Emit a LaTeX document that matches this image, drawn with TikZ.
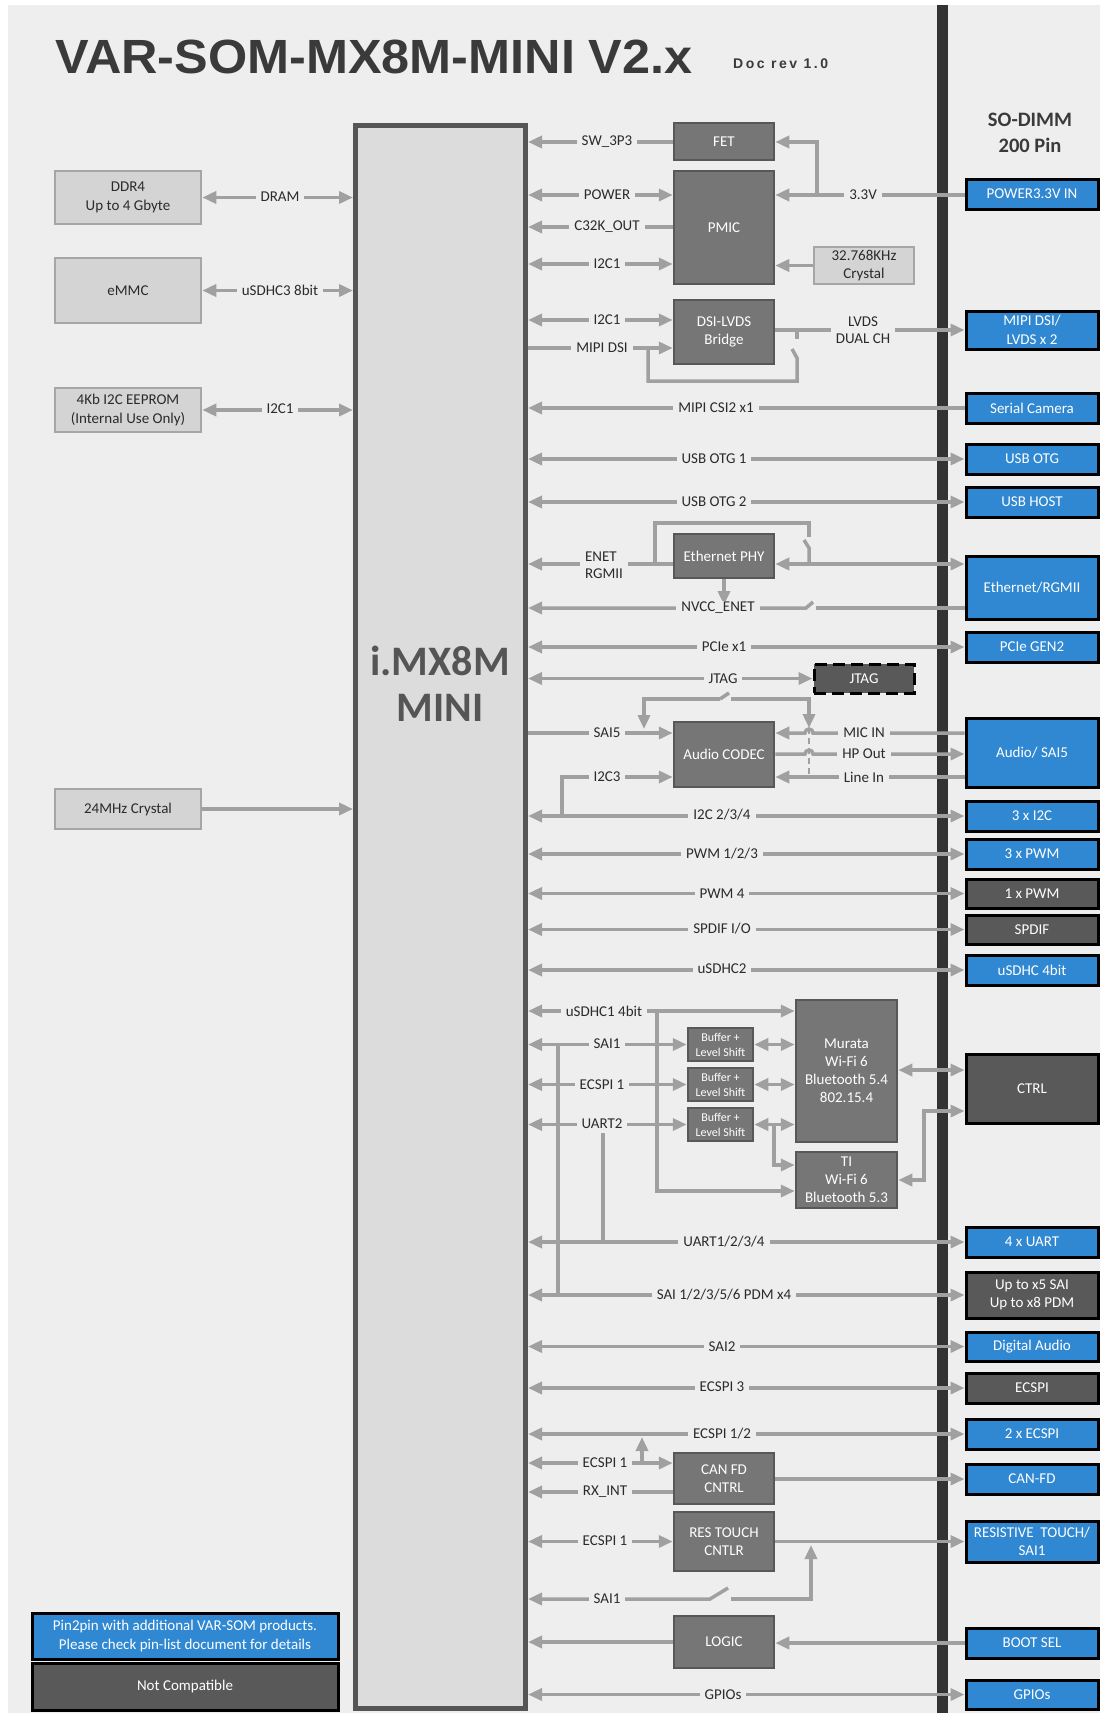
\documentclass[tikz,border=0pt]{standalone}
\usepackage{fontspec}
\setmainfont{Carlito}
\newfontfamily\arialfont{Liberation Sans}
\newfontfamily\docfont[LetterSpace=18]{Liberation Sans}
\usetikzlibrary{arrows.meta}
\definecolor{bgc}{HTML}{EEEEEE}
\definecolor{lc}{HTML}{A0A0A0}
\definecolor{txt}{HTML}{2B2B2B}
\definecolor{lfill}{HTML}{D4D4D4}
\definecolor{ldraw}{HTML}{A6A6A6}
\definecolor{gfill}{HTML}{767676}
\definecolor{gdraw}{HTML}{585858}
\definecolor{bfill}{HTML}{2F88D1}
\definecolor{dfill}{HTML}{595959}
\definecolor{mfill}{HTML}{DCDCDC}
\definecolor{mdraw}{HTML}{555555}
\definecolor{barc}{HTML}{333333}
\definecolor{titc}{HTML}{3A3A3A}
\newcommand\fs[2]{\fontsize{#1}{#2}\selectfont}
\newcommand\mkbox[7]{\node[#2, minimum width={(#5-#3)*1pt}, minimum height={(#6-#4)*1pt}] (#1) at ({(#3+#5)/2},{(#4+#6)/2}) {#7};}
\newcommand\lab[3]{\node[lbl] (#1) at (#2) {#3};}
\tikzset{
 con/.style={draw=lc, line width=3.5pt, >={Triangle[length=14pt,width=12pt]}},
 lbl/.style={fill=bgc, inner xsep=5pt, inner ysep=1pt, text=txt, font=\fs{15}{17}, align=center},
 basebox/.style={rectangle, inner sep=0pt, align=center, font=\fs{15}{18.5}},
 lbox/.style={basebox, fill=lfill, draw=ldraw, line width=2.5pt, text=txt},
 gbox/.style={basebox, fill=gfill, draw=gdraw, line width=2.5pt, text=white},
 bbox/.style={basebox, fill=bfill, draw=black, line width=3pt, text=white},
 dbox/.style={basebox, fill=dfill, draw=black, line width=3pt, text=white},
 mainbox/.style={basebox, fill=mfill, draw=mdraw, line width=5pt},
}
\begin{document}
\begin{tikzpicture}[x=1pt,y=-1pt]
\useasboundingbox (0,0) rectangle (1105,1713);
\fill[bgc] (8,5) rectangle (1100,1713);
\fill[barc] (937,5) rectangle (948,1713);
% title
\node[anchor=base west, inner sep=0pt, text=titc] (title) at (55,73) {\arialfont\bfseries\fontsize{48}{50}\selectfont\scalebox{1.05}[1]{VAR-SOM-MX8M-MINI V2.x}};
\node[anchor=base west, inner sep=0pt, text=titc] (docrev) at (733,68) {\docfont\bfseries\fs{14}{16}Doc rev 1.0};
\node[align=center, text=titc, font=\bfseries\fs{20.5}{26}] (sodimm) at (1030,133) {SO-DIMM\\200 Pin};
% main chip
\mkbox{main}{mainbox}{355.5}{125.5}{525.5}{1708}{}
\node[align=center, text=mdraw, font=\bfseries\fs{42}{46}] (chip) at (440,684) {i.MX8M\\MINI};
% left boxes
\mkbox{ddr}{lbox}{55}{171}{201}{224}{DDR4\\Up to 4 Gbyte}
\mkbox{emmc}{lbox}{55}{258}{201}{323}{eMMC}
\mkbox{eeprom}{lbox}{55}{388}{201}{432}{4Kb I2C EEPROM\\(Internal Use Only)}
\mkbox{xtal}{lbox}{55}{789}{201}{829}{24MHz Crystal}
% internal boxes
\mkbox{fet}{gbox}{674}{123}{774}{160}{FET}
\mkbox{pmic}{gbox}{674}{171}{774}{284}{PMIC}
\mkbox{xtalb}{lbox}{814}{247}{914}{284}{32.768KHz\\Crystal}
\mkbox{dsi}{gbox}{674}{300}{774}{364}{DSI-LVDS\\Bridge}
\mkbox{phy}{gbox}{674}{534}{774}{578}{Ethernet PHY}
\mkbox{jtagb}{dbox,dash pattern=on 12pt off 6pt}{814}{664}{914}{693}{JTAG}
\mkbox{codec}{gbox}{674}{722}{774}{787}{Audio CODEC}
\mkbox{bufa}{gbox,font=\fs{12}{15}}{688}{1028}{753}{1061}{Buffer +\\Level Shift}
\mkbox{bufb}{gbox,font=\fs{12}{15}}{688}{1068}{753}{1101}{Buffer +\\Level Shift}
\mkbox{bufc}{gbox,font=\fs{12}{15}}{688}{1108}{753}{1141}{Buffer +\\Level Shift}
\mkbox{murata}{gbox,font=\fs{15}{18}}{796}{1000}{897}{1142}{Murata\\Wi-Fi 6\\Bluetooth 5.4\\802.15.4}
\mkbox{ti}{gbox,font=\fs{15}{18}}{796}{1152}{897}{1208}{TI\\Wi-Fi 6\\Bluetooth 5.3}
\mkbox{canfd}{gbox}{674}{1453}{774}{1504}{CAN FD\\CNTRL}
\mkbox{res}{gbox}{674}{1512}{774}{1571}{RES TOUCH\\CNTLR}
\mkbox{logic}{gbox}{674}{1616}{774}{1668}{LOGIC}
% right boxes
\mkbox{pwrin}{bbox}{966}{179}{1098}{209}{POWER3.3V IN}
\mkbox{lvdsout}{bbox}{966}{311}{1098}{349}{MIPI DSI/\\LVDS x 2}
\mkbox{cam}{bbox}{966}{393}{1098}{423}{Serial Camera}
\mkbox{usbotg}{bbox}{966}{444}{1098}{474}{USB OTG}
\mkbox{usbhost}{bbox}{966}{487}{1098}{517}{USB HOST}
\mkbox{eth}{bbox}{966}{556}{1098}{619}{Ethernet/RGMII}
\mkbox{pcie}{bbox}{966}{632}{1098}{662}{PCIe GEN2}
\mkbox{audio}{bbox}{966}{718}{1098}{787}{Audio/ SAI5}
\mkbox{itwoc}{bbox}{966}{801}{1098}{831}{3 x I2C}
\mkbox{pwmc}{bbox}{966}{839}{1098}{869}{3 x PWM}
\mkbox{pwma}{dbox}{966}{879}{1098}{908}{1 x PWM}
\mkbox{spdif}{dbox}{966}{915}{1098}{944}{SPDIF}
\mkbox{usdhc}{bbox}{966}{955}{1098}{985}{uSDHC 4bit}
\mkbox{ctrl}{dbox}{966}{1054}{1098}{1123}{CTRL}
\mkbox{uart}{bbox}{966}{1227}{1098}{1257}{4 x UART}
\mkbox{saiout}{dbox}{966}{1272}{1098}{1318}{Up to x5 SAI\\Up to x8 PDM}
\mkbox{digaud}{bbox}{966}{1332}{1098}{1361}{Digital Audio}
\mkbox{ecspi}{dbox}{966}{1373}{1098}{1403}{ECSPI}
\mkbox{ecspib}{bbox}{966}{1419}{1098}{1449}{2 x ECSPI}
\mkbox{canout}{bbox}{966}{1464}{1098}{1494}{CAN-FD}
\mkbox{resout}{bbox}{966}{1521}{1098}{1562}{RESISTIVE~ TOUCH/\\SAI1}
\mkbox{boot}{bbox}{966}{1628}{1098}{1658}{BOOT SEL}
\mkbox{gpio}{bbox}{966}{1680}{1098}{1709}{GPIOs}
% legend
\mkbox{lega}{bbox}{32}{1613}{338}{1659}{Pin2pin with additional VAR-SOM products.\\Please check pin-list document for details}
\mkbox{legb}{dbox}{32}{1663}{338}{1710}{Not Compatible}
% ---------- connectors left
\draw[con,<->] (ddr.east) -- (main.west|-ddr.east);
\draw[con,<->] (emmc.east) -- (main.west|-emmc.east);
\draw[con,<->] (eeprom.east) -- (main.west|-eeprom.east);
\draw[con,->] (xtal.east) -- (main.west|-xtal.east);
% ---------- connectors right
\draw[con,<-] (main.east|-0,142) -- (fet.west|-0,142);
\draw[con,<->] (main.east|-0,195) -- (pmic.west|-0,195);
\draw[con,<-] (main.east|-0,227) -- (pmic.west|-0,227);
\draw[con,<->] (main.east|-0,264) -- (pmic.west|-0,264);
\draw[con,->] (pwrin.west|-0,195) -- (pmic.east|-0,195);
\draw[con,->] (817,195) |- (fet.east|-0,142);
\draw[con,->] (xtalb.west) -- (pmic.east|-xtalb.west);
\draw[con,<->] (main.east|-0,320) -- (dsi.west|-0,320);
\draw[con,->] (main.east|-0,348) -- (dsi.west|-0,348);
\draw[con,->] (dsi.east|-0,330) -- (lvdsout.west|-0,330);
\draw[con] (648,348) -- (648,381) -- (797,381) -- (797,358) -- (792,349);
\draw[con] (797,330) -- (797,339);
\draw[con,<-] (main.east|-cam.west) -- (cam.west);
\draw[con,<->] (main.east|-usbotg.west) -- (usbotg.west);
\draw[con,<->] (main.east|-usbhost.west) -- (usbhost.west);
\draw[con,<-] (main.east|-0,564) -- (phy.west|-0,564);
\draw[con] (655,564) -- (655,523) -- (809,523) -- (809,537);
\draw[con] (804,540) -- (809,548) -- (809,564);
\draw[con,<->] (phy.east|-0,564) -- (eth.west|-0,564);
\draw[con,->] (phy.south) -- (phy.south|-0,605);
\draw[con,<-] (main.east|-0,608) -- (806,608) -- (813,602);
\draw[con] (816,608) -- (eth.west|-0,608);
\draw[con,<->] (main.east|-pcie.west) -- (pcie.west);
\draw[con,<->] (main.east|-jtagb.west) -- (jtagb.west);
\draw[con,->] (720,699) -- (644,699) -- (644,729);
\draw[con] (720,699) -- (729,693);
\draw[con,->] (731,699) -- (809,699) -- (809,728);
\draw[draw=lc, line width=2.5pt, dash pattern=on 6pt off 4pt] (809,728) -- (809,777);
\draw[con,->] (main.east|-0,733) -- (codec.west|-0,733);
\draw[con,->] (562,815) |- (codec.west|-0,777);
\draw[con,->] (audio.west|-0,733) -- (813,733) arc[start angle=0,end angle=180,radius=4pt] -- (codec.east|-0,733);
\draw[con,->] (codec.east|-0,754) -- (805,754) arc[start angle=180,end angle=0,radius=4pt] -- (audio.west|-0,754);
\draw[con,->] (audio.west|-0,777) -- (codec.east|-0,777);
\draw[con,<->] (main.east|-itwoc.west) -- (itwoc.west);
\draw[con,<->] (main.east|-pwmc.west) -- (pwmc.west);
\draw[con,<->] (main.east|-pwma.west) -- (pwma.west);
\draw[con,<->] (main.east|-spdif.west) -- (spdif.west);
\draw[con,<->] (main.east|-usdhc.west) -- (usdhc.west);
\draw[con,<->] (main.east|-0,1011) -- (murata.west|-0,1011);
\draw[con,->] (657,1011) |- (ti.west|-0,1191);
\draw[con,<->] (main.east|-bufa.west) -- (bufa.west);
\draw[con] (558,1044) -- (558,1295);
\draw[con,<->] (main.east|-bufb.west) -- (bufb.west);
\draw[con,<->] (main.east|-bufc.west) -- (bufc.west);
\draw[con] (603,1133) -- (603,1242);
\draw[con,<->] (bufa.east) -- (murata.west|-bufa.east);
\draw[con,<->] (bufb.east) -- (murata.west|-bufb.east);
\draw[con,<->] (bufc.east) -- (murata.west|-bufc.east);
\draw[con,->] (774,1124.5) |- (ti.west|-0,1165);
\draw[con,<->] (murata.east|-0,1070) -- (ctrl.west|-0,1070);
\draw[con,<->] (ti.east|-0,1180) -- (924,1180) -- (924,1111) -- (ctrl.west|-0,1111);
\draw[con,<->] (main.east|-uart.west) -- (uart.west);
\draw[con,<->] (main.east|-saiout.west) -- (saiout.west);
\draw[con,<->] (main.east|-digaud.west) -- (digaud.west);
\draw[con,<->] (main.east|-ecspi.west) -- (ecspi.west);
\draw[con,<->] (main.east|-ecspib.west) -- (ecspib.west);
\draw[con,<->] (main.east|-0,1463) -- (canfd.west|-0,1463);
\draw[con,->] (642,1463) -- (642,1437);
\draw[con,<-] (main.east|-0,1492) -- (canfd.west|-0,1492);
\draw[con,->] (canfd.east|-canout.west) -- (canout.west);
\draw[con,<->] (main.east|-res.west) -- (res.west);
\draw[con,->] (res.east) -- (resout.west|-res.east);
\draw[con,<-] (main.east|-0,1599) -- (710,1599) -- (728,1588);
\draw[con,->] (731,1599) -- (811,1599) -- (811,1545);
\draw[con,<-] (main.east|-logic.west) -- (logic.west);
\draw[con,->] (boot.west) -- (logic.east|-boot.west);
\draw[con,<->] (main.east|-gpio.west) -- (gpio.west);
% ---------- labels
\lab{lDram}{280,197}{DRAM}
\lab{lSdhcC}{280,290}{uSDHC3 8bit}
\lab{lIicE}{280,409}{I2C1}
\lab{lSw}{607,142}{SW\_3P3}
\lab{lPow}{607,195}{POWER}
\lab{lClk}{607,227}{C32K\_OUT}
\lab{lIicP}{607,264}{I2C1}
\lab{lVin}{863,195}{3.3V}
\lab{lIicD}{607,320}{I2C1}
\lab{lDsi}{602,348}{MIPI DSI}
\lab{lLvds}{863,330}{LVDS\\DUAL CH}
\lab{lCsi}{716,408}{MIPI CSI2 x1}
\lab{lOtgA}{714,459}{USB OTG 1}
\lab{lOtgB}{714,502}{USB OTG 2}
\node[lbl, align=left] (lEnet) at (604,565) {ENET\\RGMII};
\lab{lNvcc}{718,608}{NVCC\_ENET}
\lab{lPcie}{724,647}{PCIe x1}
\lab{lJtag}{723,679}{JTAG}
\lab{lSaiE}{607,733}{SAI5}
\lab{lIicC}{607,777}{I2C3}
\lab{lMic}{864,733}{MIC IN}
\lab{lHp}{864,754}{HP Out}
\lab{lLine}{864,777}{Line In}
\lab{lIicX}{722,815}{I2C 2/3/4}
\lab{lPwmA}{722,854}{PWM 1/2/3}
\lab{lPwmB}{722,894}{PWM 4}
\lab{lSpdif}{722,929}{SPDIF I/O}
\lab{lSdhcB}{722,969}{uSDHC2}
\lab{lSdhcA}{604,1011}{uSDHC1 4bit}
\lab{lSaiA}{607,1044}{SAI1}
\lab{lSpiA}{602,1085}{ECSPI 1}
\lab{lUartB}{602,1124}{UART2}
\lab{lUart}{724,1242}{UART1/2/3/4}
\lab{lSaiAll}{724,1295}{SAI 1/2/3/5/6 PDM x4}
\lab{lSaiB}{722,1347}{SAI2}
\lab{lSpiC}{722,1387}{ECSPI 3}
\lab{lSpiAB}{722,1434}{ECSPI 1/2}
\lab{lSpiCan}{605,1463}{ECSPI 1}
\lab{lRx}{605,1492}{RX\_INT}
\lab{lSpiRes}{605,1541}{ECSPI 1}
\lab{lSaiRes}{607,1599}{SAI1}
\lab{lGpio}{723,1695}{GPIOs}
\end{tikzpicture}
\end{document}
